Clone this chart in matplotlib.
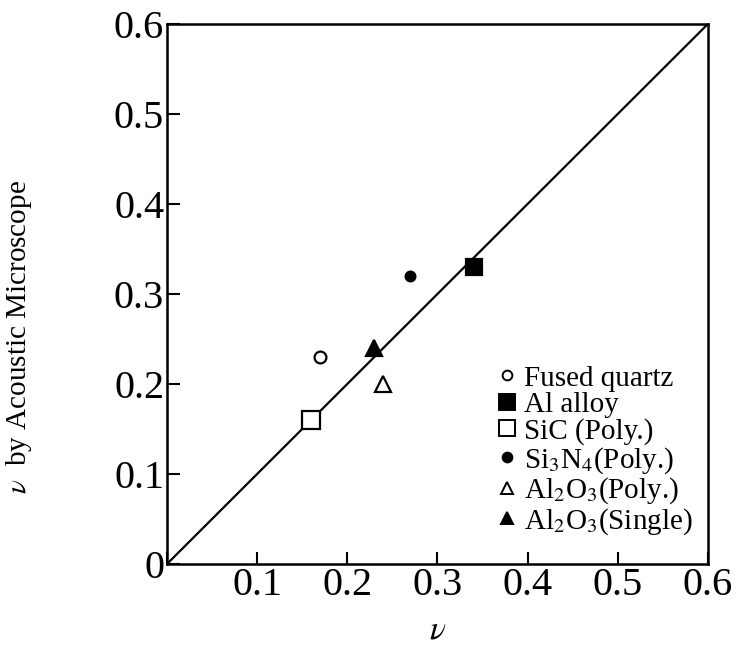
import matplotlib
matplotlib.use("Agg")
import matplotlib.pyplot as plt
from matplotlib.lines import Line2D

plt.rcParams['font.family'] = ['Liberation Serif', 'DejaVu Serif']
plt.rcParams['mathtext.fontset'] = 'stix'

materials = ["Fused quartz", "Al alloy", "SiC (Poly.)", "Si$_3$N$_4$(Poly.)",
             "Al$_2$O$_3$(Poly.)", "Al$_2$O$_3$(Single)"]
nu_x = [0.17, 0.34, 0.16, 0.27, 0.24, 0.23]
nu_y = [0.23, 0.33, 0.16, 0.32, 0.20, 0.24]
markers = ["o", "s", "s", "o", "^", "^"]
filled = [False, True, False, True, False, True]
msizes = [8.5, 12, 13, 7, 12, 11]
leg_sizes = [7, 11, 11, 7, 9, 9]
ticks = [0, 0.1, 0.2, 0.3, 0.4, 0.5, 0.6]
xtick_labels = ["", "0.1", "0.2", "0.3", "0.4", "0.5", "0.6"]
ytick_labels = ["0", "0.1", "0.2", "0.3", "0.4", "0.5", "0.6"]

fig = plt.figure(figsize=(7.39, 6.46), dpi=100)
ax = fig.add_axes([0.226, 0.127, 0.732, 0.836])

ax.plot([0, 0.6], [0, 0.6], color="black", lw=1.6, zorder=2)
for x, y, m, f, s in zip(nu_x, nu_y, markers, filled, msizes):
    ax.plot([x], [y], marker=m, markersize=s, markeredgewidth=1.6,
            markerfacecolor="black" if f else "white", markeredgecolor="black",
            linestyle="none", zorder=3)

ax.set_xlim(0, 0.6)
ax.set_ylim(0, 0.6)
ax.set_xticks(ticks)
ax.set_yticks(ticks)
ax.set_xticklabels(xtick_labels)
ax.set_yticklabels(ytick_labels)
ax.tick_params(direction="in", length=9, width=1.5, labelsize=29, pad=2)
for sp in ax.spines.values():
    sp.set_linewidth(1.8)

ax.set_xlabel(r"$\nu$", fontsize=24, labelpad=8)
ax.set_ylabel(r"$\nu$  by Acoustic Microscope", fontsize=21)
ax.yaxis.set_label_coords(-0.245, 0.42)

handles = []
for m, f, s in zip(markers, filled, leg_sizes):
    handles.append(Line2D([], [], marker=m, markersize=s, markeredgewidth=1.4,
                          markerfacecolor="black" if f else "white",
                          markeredgecolor="black", linestyle="none"))
leg = ax.legend(handles, materials, loc="lower right", bbox_to_anchor=(0.972, 0.05),
                frameon=False, fontsize=21, handletextpad=0.2, labelspacing=0.0,
                handlelength=0.8, borderaxespad=0.0, borderpad=0.0)

fig.savefig("out.png", dpi=100)
